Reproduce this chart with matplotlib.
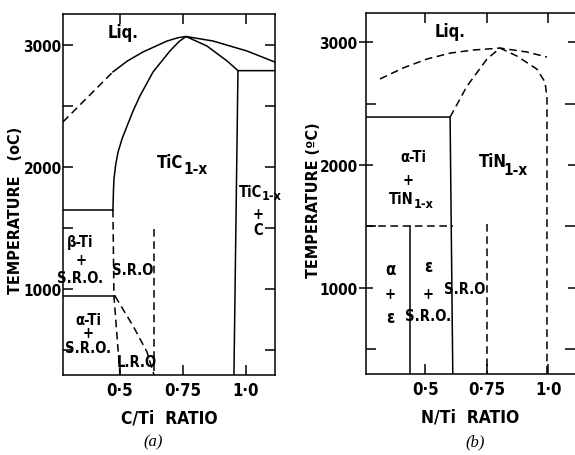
import matplotlib.pyplot as plt
from matplotlib.ticker import MultipleLocator, FixedLocator

plt.rcParams['font.family'] = ['DejaVu Sans']
plt.rcParams['font.stretch'] = 'condensed'
plt.rcParams['font.weight'] = 'bold'
plt.rcParams['axes.labelweight'] = 'bold'

# ---- (a) Ti-C, values ----
a_liq_dash_x = [0.274, 0.472]
a_liq_dash_t = [2370, 2780]
a_liq_x = [0.472, 0.53, 0.591, 0.687, 0.73, 0.762, 0.869, 1.004, 1.115]
a_liq_t = [2780, 2870, 2943, 3033, 3060, 3070, 3033, 2951, 2860]
a_sol_x = [0.472, 0.474, 0.476, 0.483, 0.492, 0.508, 0.528, 0.552, 0.579, 0.631, 0.698, 0.735, 0.762,
           0.845, 0.925, 0.968]
a_sol_t = [1650, 1800, 1900, 2020, 2120, 2230, 2336, 2460, 2582, 2779, 2951, 3030, 3070,
           2992, 2869, 2790]
a_tic_c_x = [1.115, 0.968, 0.952]
a_tic_c_t = [2790, 2790, 295]
a_beta_x = [0.274, 0.472]
a_beta_t = [1650, 1650]
a_alpha_x = [0.274, 0.48]
a_alpha_t = [943, 943]
a_sro_left_x = [0.472, 0.476, 0.5]
a_sro_left_t = [1650, 943, 295]
a_lro_x = [0.48, 0.552, 0.607, 0.635]
a_lro_t = [943, 697, 484, 295]
a_sro_right_x = [0.633, 0.633]
a_sro_right_t = [1490, 295]

# ---- (b) Ti-N ----
b_liq_x = [0.315, 0.41, 0.506, 0.6, 0.693, 0.803, 0.913, 0.994]
b_liq_t = [2700, 2790, 2862, 2910, 2935, 2951, 2919, 2878]
b_sol_x = [0.6, 0.669, 0.75, 0.803, 0.872, 0.953, 0.986, 0.994, 0.994]
b_sol_t = [2390, 2642, 2862, 2951, 2886, 2780, 2675, 2550, 300]
b_ati_x = [0.258, 0.6, 0.611]
b_ati_t = [2390, 2390, 300]
b_eps_top_x = [0.258, 0.611]
b_eps_top_t = [1500, 1500]
b_eps_x = [0.437, 0.437]
b_eps_t = [1500, 300]
b_sro_x = [0.75, 0.75]
b_sro_t = [1520, 300]

x_ticks = [0.5, 0.75, 1.0]
x_ticklabels = ['0·5', '0·75', '1·0']
y_ticks = [1000, 2000, 3000]

fig = plt.figure(figsize=(5.75, 4.56), dpi=100)
ax1 = fig.add_axes([0.1096, 0.1754, 0.3687, 0.7916])
ax2 = fig.add_axes([0.6365, 0.1776, 0.3635, 0.7916])

lw = 1.1
dash = (5, 3)

# panel a
ax1.plot(a_liq_dash_x, a_liq_dash_t, 'k', lw=lw, dashes=dash)
ax1.plot(a_liq_x, a_liq_t, 'k', lw=lw)
ax1.plot(a_sol_x, a_sol_t, 'k', lw=lw)
ax1.plot(a_tic_c_x, a_tic_c_t, 'k', lw=lw)
ax1.plot(a_beta_x, a_beta_t, 'k', lw=lw)
ax1.plot(a_alpha_x, a_alpha_t, 'k', lw=lw)
ax1.plot(a_sro_left_x, a_sro_left_t, 'k', lw=lw, dashes=dash)
ax1.plot(a_lro_x, a_lro_t, 'k', lw=lw, dashes=dash)
ax1.plot(a_sro_right_x, a_sro_right_t, 'k', lw=lw, dashes=dash)
ax1.set_xlim(0.274, 1.115)
ax1.set_ylim(295, 3254)

fs = 10.5
ax1.text(0.512, 3107, 'Liq.', fontsize=12, ha='center', va='center')
ax1.text(0.70, 2041, 'TiC', fontsize=12, ha='center', va='center')
ax1.text(0.80, 1985, '1-x', fontsize=11, ha='center', va='center')
ax1.text(1.065, 1803, 'TiC', fontsize=fs, ha='right', va='center')
ax1.text(1.063, 1770, '1-x', fontsize=9, ha='left', va='center')
ax1.text(1.048, 1615, '+', fontsize=fs, ha='center', va='center')
ax1.text(1.048, 1490, 'C', fontsize=fs, ha='center', va='center')
ax1.text(0.341, 1393, 'β-Ti', fontsize=fs, ha='center', va='center')
ax1.text(0.345, 1246, '+', fontsize=fs, ha='center', va='center')
ax1.text(0.341, 1098, 'S.R.O.', fontsize=fs, ha='center', va='center')
ax1.text(0.552, 1164, 'S.R.O', fontsize=fs, ha='center', va='center')
ax1.text(0.373, 754, 'α-Ti', fontsize=fs, ha='center', va='center')
ax1.text(0.373, 640, '+', fontsize=fs, ha='center', va='center')
ax1.text(0.373, 520, 'S.R.O.', fontsize=fs, ha='center', va='center')
ax1.text(0.567, 402, 'L.R.O', fontsize=fs, ha='center', va='center')
ax1.set_xlabel('C/Ti  RATIO', fontsize=12.5, labelpad=7)
ax1.set_ylabel('TEMPERATURE   (oC)', fontsize=11.5)
ax1.yaxis.set_label_coords(-0.19, 0.46)

# panel b
ax2.plot(b_liq_x, b_liq_t, 'k', lw=lw, dashes=dash)
ax2.plot(b_sol_x, b_sol_t, 'k', lw=lw, dashes=dash)
ax2.plot(b_ati_x, b_ati_t, 'k', lw=lw)
ax2.plot(b_eps_top_x, b_eps_top_t, 'k', lw=lw, dashes=dash)
ax2.plot(b_eps_x, b_eps_t, 'k', lw=lw)
ax2.plot(b_sro_x, b_sro_t, 'k', lw=lw, dashes=dash)
ax2.set_xlim(0.258, 1.108)
ax2.set_ylim(300, 3236)

ax2.text(0.6, 3089, 'Liq.', fontsize=12, ha='center', va='center')
ax2.text(0.775, 2030, 'TiN', fontsize=12, ha='center', va='center')
ax2.text(0.865, 1965, '1-x', fontsize=11, ha='center', va='center')
ax2.text(0.45, 2073, 'α-Ti', fontsize=fs, ha='center', va='center')
ax2.text(0.43, 1886, '+', fontsize=fs, ha='center', va='center')
ax2.text(0.45, 1724, 'TiN', fontsize=fs, ha='right', va='center')
ax2.text(0.45, 1690, '1-x', fontsize=9, ha='left', va='center')
ax2.text(0.356, 1154, 'α', fontsize=12, ha='center', va='center')
ax2.text(0.356, 951, '+', fontsize=fs, ha='center', va='center')
ax2.text(0.356, 764, 'ε', fontsize=12, ha='center', va='center')
ax2.text(0.51, 1179, 'ε', fontsize=12, ha='center', va='center')
ax2.text(0.51, 951, '+', fontsize=fs, ha='center', va='center')
ax2.text(0.51, 772, 'S.R.O.', fontsize=fs, ha='center', va='center')
ax2.text(0.66, 992, 'S.R.O', fontsize=fs, ha='center', va='center')
ax2.set_xlabel('N/Ti  RATIO', fontsize=12.5, labelpad=7)
ax2.set_ylabel('TEMPERATURE (ºC)', fontsize=11.5)
ax2.yaxis.set_label_coords(-0.215, 0.485)
ax2.spines['right'].set_visible(False)

for ax in (ax1, ax2):
    for s in ax.spines.values():
        s.set_linewidth(lw)
    ax.xaxis.set_major_locator(FixedLocator(x_ticks))
    ax.set_xticklabels(x_ticklabels)
    ax.yaxis.set_major_locator(FixedLocator(y_ticks))
    ax.yaxis.set_minor_locator(MultipleLocator(500))
    ax.tick_params(which='both', direction='in', top=True, right=True, length=7, width=lw,
                   labelsize=12, pad=4)
    ax.tick_params(axis='y', pad=1, labelsize=11)

ax2.tick_params(axis='y', which='major', direction='inout', length=10)

fig.text(0.266, 0.02, '(a)', fontsize=12, style='italic', weight='normal', stretch='normal',
         family='Liberation Serif', ha='center')
fig.text(0.826, 0.02, '(b)', fontsize=12, style='italic', weight='normal', stretch='normal',
         family='Liberation Serif', ha='center')

fig.savefig('out.png', dpi=100)
